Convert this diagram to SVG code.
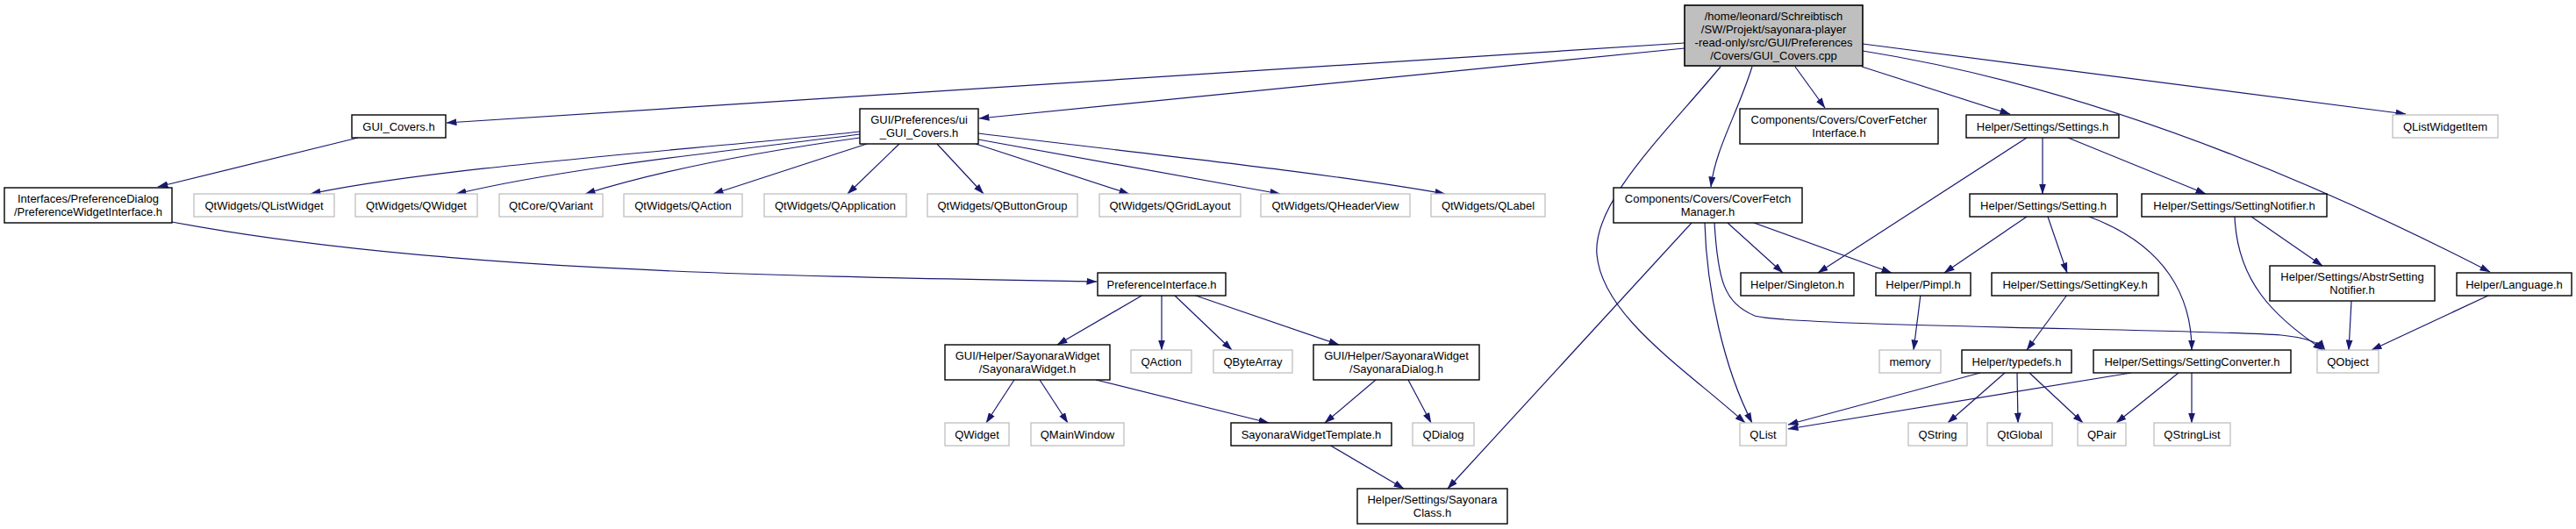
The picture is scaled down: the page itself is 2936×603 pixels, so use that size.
<svg xmlns="http://www.w3.org/2000/svg" width="2936" height="603" viewBox="0 0 2936 603">
<style>
text{font-family:"Liberation Sans",Arial,Helvetica,sans-serif;font-size:13px;text-anchor:middle;fill:#000}
.n rect{fill:#fff;stroke:#000;stroke-width:1.4}
.g rect{fill:#fff;stroke:#bfbfbf;stroke-width:1.3}
.m rect{fill:#bfbfbf;stroke:#000;stroke-width:1.6}
#edges path{fill:none;stroke:#191970;stroke-width:1.2;marker-end:url(#a)}
</style>
<defs>
<marker id="a" markerUnits="userSpaceOnUse" viewBox="0 0 12 8" markerWidth="12" markerHeight="8" refX="11.5" refY="4" orient="auto">
<path d="M0,0 L12,4 L0,8 z" fill="#191970"/>
</marker>
</defs>
<rect width="2936" height="603" fill="#fff"/>
<g id="edges">
<path d="M1920,49 L509,140"/>
<path d="M1920,55 L1116,135"/>
<path d="M1961,76 C1900,150 1815,230 1820,290 C1826,360 1920,420 1989,482"/>
<path d="M1997,76 C1980,130 1955,170 1950,213"/>
<path d="M2046,76 L2080,123"/>
<path d="M2122,76 L2291,130"/>
<path d="M2123,58 Q2450,110 2838,310"/>
<path d="M2123,50 L2742,130"/>
<path d="M408,157 L180,213"/>
<path d="M196,253 C500,310 900,315 1250,321"/>
<path d="M980,150 C800,170 500,190 354,221"/>
<path d="M980,153 C850,170 650,190 520,221"/>
<path d="M980,157 C850,175 750,195 667,221"/>
<path d="M988,164 L813,221"/>
<path d="M1025,164 L966,221"/>
<path d="M1068,164 L1121,221"/>
<path d="M1112,164 L1287,221"/>
<path d="M1115,159 L1459,221"/>
<path d="M1115,152 C1300,175 1500,195 1647,221"/>
<path d="M1303,336 L1205,393"/>
<path d="M1324,336 L1324,399"/>
<path d="M1338,336 L1404,399"/>
<path d="M1360,336 L1526,393"/>
<path d="M1156,433 L1124,482"/>
<path d="M1185,433 L1217,482"/>
<path d="M1249,433 L1446,482"/>
<path d="M1568,433 L1510,482"/>
<path d="M1605,433 L1631,482"/>
<path d="M1515,507 L1600,557"/>
<path d="M1928,254 L1650,557"/>
<path d="M1943,254 C1945,330 1965,420 1997,482"/>
<path d="M1969,254 L2032,311"/>
<path d="M1999,254 L2156,311"/>
<path d="M1954,254 C1958,320 1965,345 2000,360 C2040,372 2500,375 2600,382 C2630,385 2645,392 2650,399"/>
<path d="M2310,157 L2072,311"/>
<path d="M2328,157 L2328,221"/>
<path d="M2357,157 L2514,221"/>
<path d="M2310,247 L2216,311"/>
<path d="M2334,247 L2356,311"/>
<path d="M2381,247 C2470,280 2498,340 2498,399"/>
<path d="M2566,247 L2647,303"/>
<path d="M2547,247 C2550,320 2590,360 2648,399"/>
<path d="M2680,343 L2677,399"/>
<path d="M2838,336 L2703,399"/>
<path d="M2189,336 L2181,399"/>
<path d="M2356,336 L2310,399"/>
<path d="M2257,425 L2038,484"/>
<path d="M2285,425 L2220,482"/>
<path d="M2299,425 L2300,482"/>
<path d="M2313,425 L2374,482"/>
<path d="M2429,425 L2038,489"/>
<path d="M2483,425 L2412,482"/>
<path d="M2498,425 L2498,482"/>
</g>
<g id="n_main" class="m"><rect x="1920" y="6" width="203" height="69"/><text x="2021.5" y="22.5">/home/leonard/Schreibtisch</text><text x="2021.5" y="37.5">/SW/Projekt/sayonara-player</text><text x="2021.5" y="52.5">-read-only/src/GUI/Preferences</text><text x="2021.5" y="67.5">/Covers/GUI_Covers.cpp</text></g>
<g id="n_gui_covers_h" class="n"><rect x="401" y="131" width="107" height="26"/><text x="454.5" y="148.5">GUI_Covers.h</text></g>
<g id="n_ui_gui_covers" class="n"><rect x="980" y="124" width="135" height="40"/><text x="1047.5" y="141">GUI/Preferences/ui</text><text x="1047.5" y="156">_GUI_Covers.h</text></g>
<g id="n_coverfetcherinterface" class="n"><rect x="1983" y="124" width="226" height="40"/><text x="2096" y="141">Components/Covers/CoverFetcher</text><text x="2096" y="156">Interface.h</text></g>
<g id="n_settings" class="n"><rect x="2241" y="131" width="174" height="26"/><text x="2328" y="148.5">Helper/Settings/Settings.h</text></g>
<g id="n_qlistwidgetitem" class="g"><rect x="2727" y="131" width="120" height="26"/><text x="2787" y="148.5">QListWidgetItem</text></g>
<g id="n_preferencewidgetinterface" class="n"><rect x="5" y="214" width="191" height="40"/><text x="100.5" y="231">Interfaces/PreferenceDialog</text><text x="100.5" y="246">/PreferenceWidgetInterface.h</text></g>
<g id="n_qlistwidget" class="g"><rect x="221" y="221" width="160" height="26"/><text x="301" y="238.5">QtWidgets/QListWidget</text></g>
<g id="n_qtwidgets_qwidget" class="g"><rect x="405" y="221" width="139" height="26"/><text x="474.5" y="238.5">QtWidgets/QWidget</text></g>
<g id="n_qvariant" class="g"><rect x="569" y="221" width="118" height="26"/><text x="628" y="238.5">QtCore/QVariant</text></g>
<g id="n_qtwidgets_qaction" class="g"><rect x="711" y="221" width="135" height="26"/><text x="778.5" y="238.5">QtWidgets/QAction</text></g>
<g id="n_qapplication" class="g"><rect x="871" y="221" width="162" height="26"/><text x="952" y="238.5">QtWidgets/QApplication</text></g>
<g id="n_qbuttongroup" class="g"><rect x="1057" y="221" width="171" height="26"/><text x="1142.5" y="238.5">QtWidgets/QButtonGroup</text></g>
<g id="n_qgridlayout" class="g"><rect x="1253" y="221" width="161" height="26"/><text x="1333.5" y="238.5">QtWidgets/QGridLayout</text></g>
<g id="n_qheaderview" class="g"><rect x="1437" y="221" width="170" height="26"/><text x="1522" y="238.5">QtWidgets/QHeaderView</text></g>
<g id="n_qlabel" class="g"><rect x="1631" y="221" width="130" height="26"/><text x="1696" y="238.5">QtWidgets/QLabel</text></g>
<g id="n_coverfetchmanager" class="n"><rect x="1839" y="214" width="215" height="40"/><text x="1946.5" y="231">Components/Covers/CoverFetch</text><text x="1946.5" y="246">Manager.h</text></g>
<g id="n_setting" class="n"><rect x="2245" y="221" width="168" height="26"/><text x="2329" y="238.5">Helper/Settings/Setting.h</text></g>
<g id="n_settingnotifier" class="n"><rect x="2441" y="221" width="211" height="26"/><text x="2546.5" y="238.5">Helper/Settings/SettingNotifier.h</text></g>
<g id="n_preferenceinterface" class="n"><rect x="1251" y="311" width="146" height="26"/><text x="1324" y="328.5">PreferenceInterface.h</text></g>
<g id="n_singleton" class="n"><rect x="1984" y="311" width="129" height="26"/><text x="2048.5" y="328.5">Helper/Singleton.h</text></g>
<g id="n_pimpl" class="n"><rect x="2138" y="311" width="108" height="26"/><text x="2192" y="328.5">Helper/Pimpl.h</text></g>
<g id="n_settingkey" class="n"><rect x="2270" y="311" width="190" height="26"/><text x="2365" y="328.5">Helper/Settings/SettingKey.h</text></g>
<g id="n_abstrsettingnotifier" class="n"><rect x="2587" y="303" width="188" height="40"/><text x="2681" y="320">Helper/Settings/AbstrSetting</text><text x="2681" y="335">Notifier.h</text></g>
<g id="n_language" class="n"><rect x="2800" y="311" width="131" height="26"/><text x="2865.5" y="328.5">Helper/Language.h</text></g>
<g id="n_sayonarawidget" class="n"><rect x="1077" y="393" width="188" height="40"/><text x="1171" y="410">GUI/Helper/SayonaraWidget</text><text x="1171" y="425">/SayonaraWidget.h</text></g>
<g id="n_qaction" class="g"><rect x="1289" y="399" width="69" height="26"/><text x="1323.5" y="416.5">QAction</text></g>
<g id="n_qbytearray" class="g"><rect x="1383" y="399" width="90" height="26"/><text x="1428" y="416.5">QByteArray</text></g>
<g id="n_sayonaradialog" class="n"><rect x="1497" y="393" width="189" height="40"/><text x="1591.5" y="410">GUI/Helper/SayonaraWidget</text><text x="1591.5" y="425">/SayonaraDialog.h</text></g>
<g id="n_memory" class="g"><rect x="2142" y="399" width="70" height="26"/><text x="2177" y="416.5">memory</text></g>
<g id="n_typedefs" class="n"><rect x="2236" y="399" width="125" height="26"/><text x="2298.5" y="416.5">Helper/typedefs.h</text></g>
<g id="n_settingconverter" class="n"><rect x="2386" y="399" width="225" height="26"/><text x="2498.5" y="416.5">Helper/Settings/SettingConverter.h</text></g>
<g id="n_qobject" class="g"><rect x="2641" y="399" width="70" height="26"/><text x="2676" y="416.5">QObject</text></g>
<g id="n_qwidget" class="g"><rect x="1077" y="482" width="73" height="26"/><text x="1113.5" y="499.5">QWidget</text></g>
<g id="n_qmainwindow" class="g"><rect x="1175" y="482" width="106" height="26"/><text x="1228" y="499.5">QMainWindow</text></g>
<g id="n_sayonarawidgettemplate" class="n"><rect x="1403" y="482" width="183" height="26"/><text x="1494.5" y="499.5">SayonaraWidgetTemplate.h</text></g>
<g id="n_qdialog" class="g"><rect x="1610" y="482" width="70" height="26"/><text x="1645" y="499.5">QDialog</text></g>
<g id="n_qlist" class="g"><rect x="1983" y="482" width="53" height="26"/><text x="2009.5" y="499.5">QList</text></g>
<g id="n_qstring" class="g"><rect x="2175" y="482" width="67" height="26"/><text x="2208.5" y="499.5">QString</text></g>
<g id="n_qtglobal" class="g"><rect x="2265" y="482" width="74" height="26"/><text x="2302" y="499.5">QtGlobal</text></g>
<g id="n_qpair" class="g"><rect x="2368" y="482" width="55" height="26"/><text x="2395.5" y="499.5">QPair</text></g>
<g id="n_qstringlist" class="g"><rect x="2455" y="482" width="87" height="26"/><text x="2498.5" y="499.5">QStringList</text></g>
<g id="n_sayonaraclass" class="n"><rect x="1547" y="557" width="171" height="40"/><text x="1632.5" y="574">Helper/Settings/Sayonara</text><text x="1632.5" y="589">Class.h</text></g>
</svg>
